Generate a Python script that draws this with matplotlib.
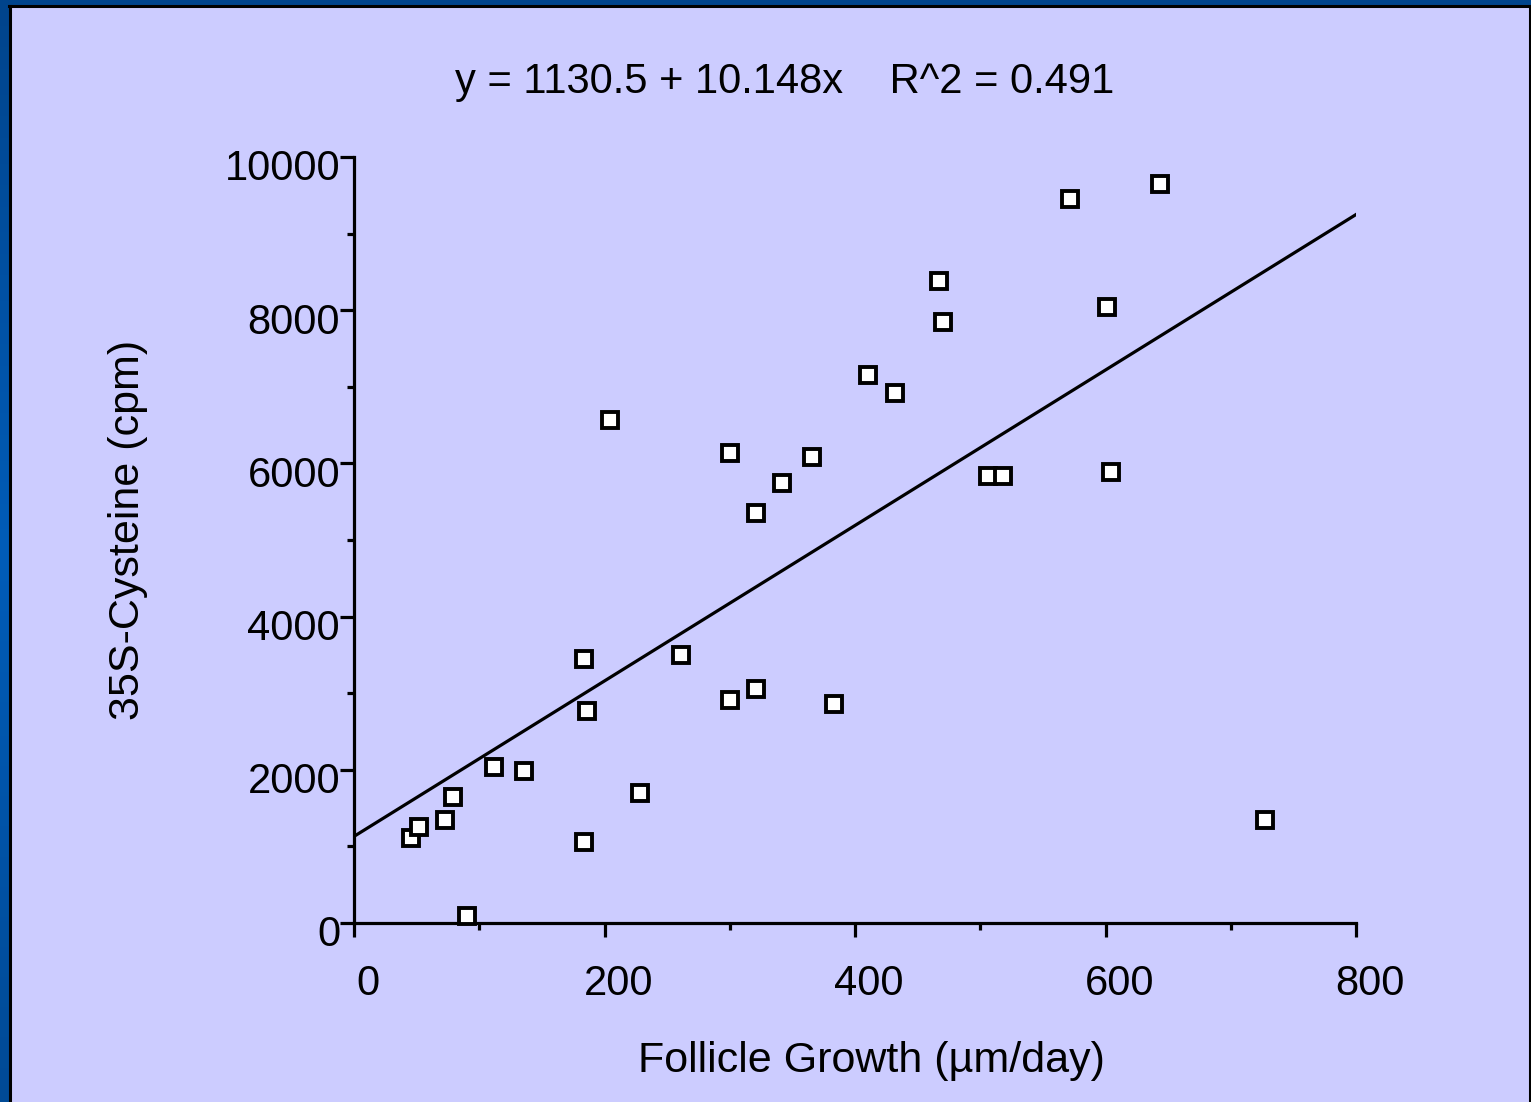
import matplotlib
matplotlib.use("Agg")
import matplotlib.pyplot as plt
import matplotlib.transforms as mtransforms
from matplotlib.patches import Rectangle
from matplotlib.colors import LinearSegmentedColormap
import numpy as np

# ---- data ----
growth = [45.5, 51.9, 72.7, 79.0, 90.2, 111.8, 135.7, 183.6, 183.6, 186.0,
          204.4, 228.3, 261.1, 300.2, 300.2, 321.0, 321.0, 341.7, 365.7, 383.2,
          410.4, 431.9, 467.1, 470.3, 506.2, 518.2, 571.7, 601.2, 604.4, 643.5,
          727.3]
cysteine = [1110, 1253, 1345, 1645, 91, 2037, 1984, 1057, 3446, 2768,
            6567, 1697, 3499, 6136, 2911, 5352, 3055, 5744, 6084, 2859,
            7154, 6919, 8381, 7846, 5836, 5836, 9452, 8042, 5888, 9648,
            1345]
intercept = 1130.5
slope = 10.148
x_ticks = [0, 200, 400, 600, 800]
y_ticks = [0, 2000, 4000, 6000, 8000, 10000]
title_text = "y = 1130.5 + 10.148x    R^2 = 0.491"
x_label = "Follicle Growth (µm/day)"
y_label = "35S-Cysteine (cpm)"

W, H = 1531, 1102
DPI = 100
plt.rcParams['font.family'] = ['Liberation Sans', 'DejaVu Sans']

fig = plt.figure(figsize=(W / DPI, H / DPI), dpi=DPI)

# blue gradient background
bg = fig.add_axes([0, 0, 1, 1], zorder=-10)
grad = np.linspace(0, 1, 256).reshape(-1, 1)
cmap = LinearSegmentedColormap.from_list("b", ["#00448c", "#005cb8", "#004a96"])
bg.imshow(grad, aspect='auto', cmap=cmap, extent=[0, 1, 0, 1], origin='upper')
bg.set_xlim(0, 1)
bg.set_ylim(0, 1)
bg.axis('off')
px = lambda v: v / W
py = lambda v: v / H
bg.add_patch(Rectangle((px(9), -0.01), 1 - px(9), 1 + 0.01 - py(5),
                       facecolor="#ccccff", edgecolor="none", transform=bg.transAxes))
bg.plot([px(10), px(10)], [-0.01, 1 - py(6)], color="black", lw=2.2, transform=bg.transAxes)
bg.plot([px(9), px(1530)], [1 - py(6), 1 - py(6)], color="black", lw=2.2, transform=bg.transAxes)
bg.plot([px(1530), px(1530)], [-0.01, 1 - py(6)], color="black", lw=2.2, transform=bg.transAxes)

ax = fig.add_axes([354 / W, 179 / H, (1356 - 354) / W, (923 - 157) / H])
ax.set_facecolor("none")
ax.set_xlim(0, 800)
ax.set_ylim(0, 10000)

for s in ["top", "right"]:
    ax.spines[s].set_visible(False)
for s in ["left", "bottom"]:
    ax.spines[s].set_linewidth(2.3)

xs = np.array([0, 800])
ax.plot(xs, intercept + slope * xs, color="black", lw=2.3, zorder=2)
ax.plot(growth, cysteine, linestyle="none", marker="s", markersize=11,
        markerfacecolor="white", markeredgecolor="black", markeredgewidth=2.8,
        zorder=3, clip_on=False)

ax.set_xticks(x_ticks)
ax.set_yticks(y_ticks)
ax.set_xticks([100, 300, 500, 700], minor=True)
ax.set_yticks([1000, 3000, 5000, 7000, 9000], minor=True)
ax.set_xticklabels([str(v) for v in x_ticks])
ax.set_yticklabels([str(v) for v in y_ticks])
ax.tick_params(which="major", direction="out", length=10, width=2.3,
               labelsize=30, colors="black")
ax.tick_params(which="minor", direction="out", length=5, width=2.3)
ax.tick_params(axis="x", which="major", pad=19.5)
ax.tick_params(axis="y", which="major", pad=0)

offx = mtransforms.ScaledTranslation(14 / DPI, 0, fig.dpi_scale_trans)
for lab in ax.get_xticklabels():
    lab.set_transform(lab.get_transform() + offx)
offy = mtransforms.ScaledTranslation(0, -8 / DPI, fig.dpi_scale_trans)
for lab in ax.get_yticklabels():
    lab.set_transform(lab.get_transform() + offy)

fig.text(785 / W, 1 - 82 / H, title_text, ha="center", va="center", fontsize=30)
fig.text(871 / W, 1 - 1061 / H, x_label, ha="center", va="center", fontsize=31)
fig.text(128 / W, 1 - 530 / H, y_label, ha="center", va="center", rotation=90, fontsize=31)

fig.savefig("out.png", dpi=DPI)
